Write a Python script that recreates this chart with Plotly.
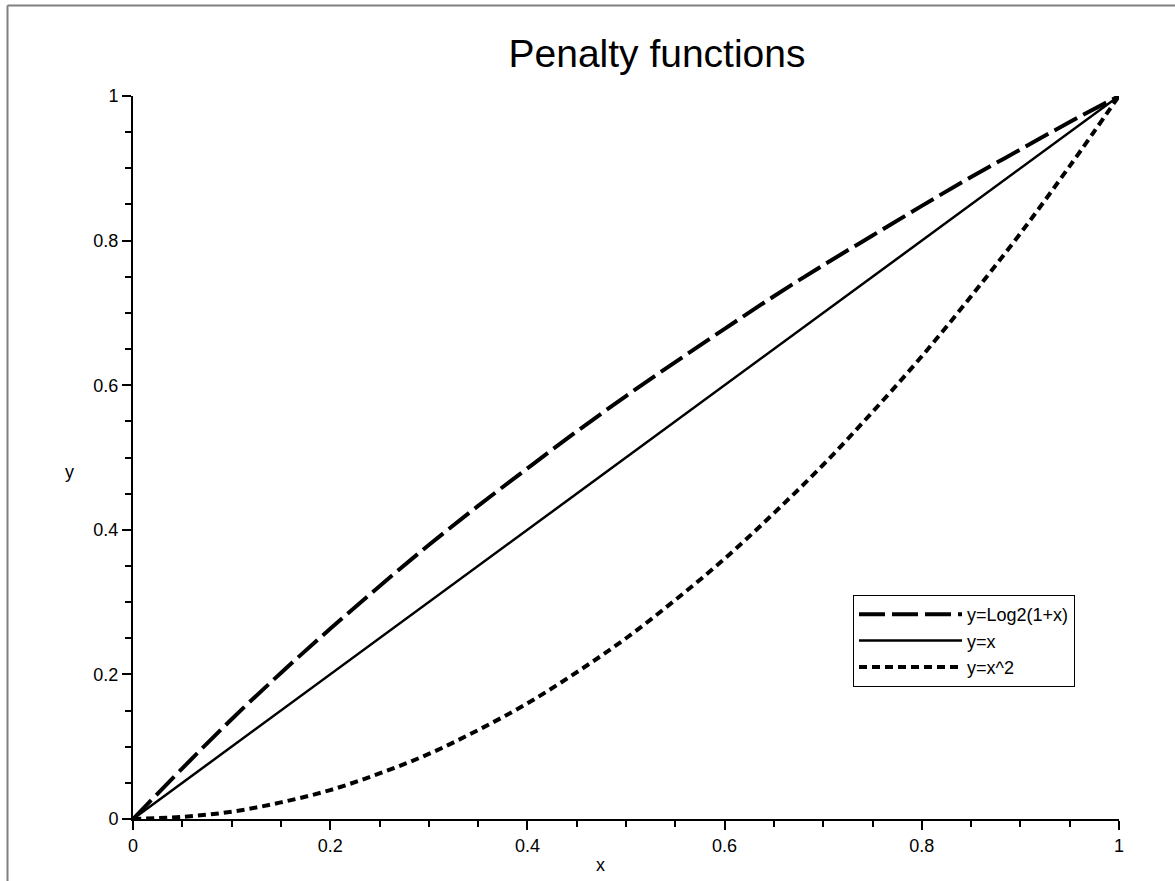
import plotly.graph_objects as go

# values
x_vals = [0.0, 0.05, 0.10, 0.15, 0.20, 0.25, 0.30, 0.35, 0.40, 0.45, 0.50,
          0.55, 0.60, 0.65, 0.70, 0.75, 0.80, 0.85, 0.90, 0.95, 1.0]
log_vals = [0.0, 0.070, 0.138, 0.202, 0.263, 0.322, 0.379, 0.433, 0.485, 0.536, 0.585,
            0.632, 0.678, 0.723, 0.766, 0.807, 0.848, 0.888, 0.926, 0.964, 1.0]
lin_vals = [0.0, 0.05, 0.10, 0.15, 0.20, 0.25, 0.30, 0.35, 0.40, 0.45, 0.50,
            0.55, 0.60, 0.65, 0.70, 0.75, 0.80, 0.85, 0.90, 0.95, 1.0]
sq_vals = [0.0, 0.003, 0.010, 0.023, 0.040, 0.063, 0.090, 0.123, 0.160, 0.203, 0.250,
           0.303, 0.360, 0.423, 0.490, 0.563, 0.640, 0.723, 0.810, 0.903, 1.0]
series_names = ["y=Log2(1+x)", "y=x", "y=x^2"]
x_ticks = [0, 0.2, 0.4, 0.6, 0.8, 1]
x_tick_labels = ["0", "0.2", "0.4", "0.6", "0.8", "1"]
y_ticks = [0, 0.2, 0.4, 0.6, 0.8, 1]
y_tick_labels = ["0", "0.2", "0.4", "0.6", "0.8", "1"]

FONT = "Liberation Sans, Arial, sans-serif"
W, H = 1175, 881
L, T = 133, 96
pw, ph = 986, 723
R, B = W - L - pw, H - T - ph

fig = go.Figure()
fig.add_trace(go.Scatter(x=x_vals, y=log_vals, mode="lines", name=series_names[0],
                         line=dict(color="black", width=4, dash="26px,7px", shape="spline")))
fig.add_trace(go.Scatter(x=x_vals, y=lin_vals, mode="lines", name=series_names[1],
                         line=dict(color="black", width=2.5)))
fig.add_trace(go.Scatter(x=x_vals, y=sq_vals, mode="lines", name=series_names[2],
                         line=dict(color="black", width=4, dash="8px,5px", shape="spline")))

def px_x(p):
    return (p - L) / pw

def px_y(p):
    return (T + ph - p) / ph

axis_common = dict(
    range=[0, 1], showgrid=False, zeroline=False, showline=True,
    linecolor="black", linewidth=2, ticks="outside", ticklen=9, tickwidth=1.5,
    tickcolor="black", tickfont=dict(family=FONT, size=18, color="black"),
    minor=dict(dtick=0.05, ticks="outside", ticklen=6, tickwidth=1.5, tickcolor="black"),
)

fig.update_layout(
    width=W, height=H,
    margin=dict(l=L, r=R, t=T, b=B, pad=0),
    paper_bgcolor="white", plot_bgcolor="white",
    font=dict(family=FONT, color="black"),
    title=dict(text="Penalty functions", font=dict(family=FONT, size=39, color="black"),
               xref="paper", x=px_x(657), xanchor="center",
               yref="container", y=1 - 53 / H, yanchor="middle"),
    xaxis=dict(tickvals=x_ticks, ticktext=x_tick_labels, **axis_common),
    yaxis=dict(tickvals=y_ticks, ticktext=y_tick_labels, **axis_common),
    legend=dict(x=px_x(853), y=px_y(595), xanchor="left", yanchor="top",
                bordercolor="black", borderwidth=1, bgcolor="white",
                font=dict(family=FONT, size=18, color="black"),
                itemwidth=103, tracegroupgap=0),
    showlegend=True,
)

fig.add_annotation(text="x", xref="paper", yref="paper", x=px_x(600), y=px_y(865),
                   showarrow=False, font=dict(family=FONT, size=18, color="black"),
                   xanchor="center", yanchor="middle")
fig.add_annotation(text="y", xref="paper", yref="paper", x=px_x(69), y=px_y(472),
                   showarrow=False, font=dict(family=FONT, size=18, color="black"),
                   xanchor="center", yanchor="middle")

# gray frame at top and left of the picture
fig.add_shape(type="line", xref="paper", yref="paper",
              x0=px_x(7.5), x1=px_x(1180), y0=px_y(5.5), y1=px_y(5.5),
              line=dict(color="#808080", width=2))
fig.add_shape(type="line", xref="paper", yref="paper",
              x0=px_x(7.5), x1=px_x(7.5), y0=px_y(5.5), y1=px_y(886),
              line=dict(color="#808080", width=2))

fig.write_html("out.html", config={"displayModeBar": False},
               post_script="document.body.style.margin='0px';")
